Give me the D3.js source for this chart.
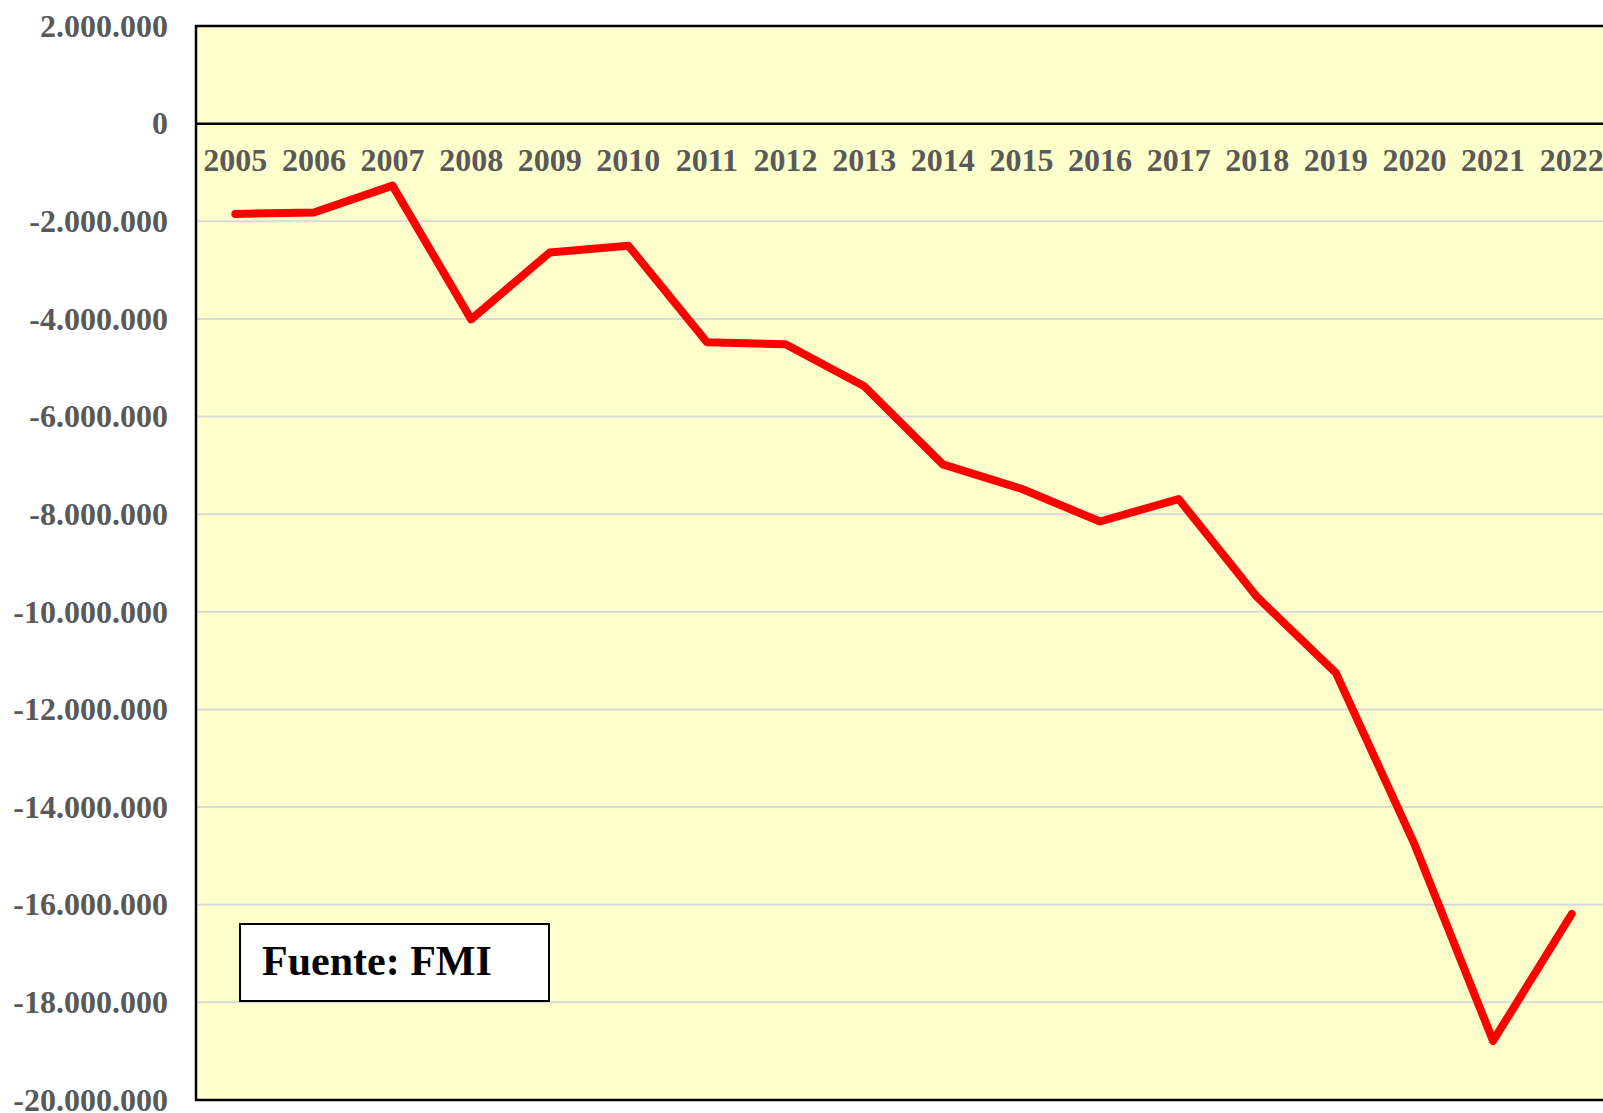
<!DOCTYPE html>
<html>
<head>
<meta charset="utf-8">
<script src="https://cdn.jsdelivr.net/npm/d3@7"></script>
<style>
  html, body { margin: 0; padding: 0; background: #fff; overflow: hidden; }
  svg { display: block; }
</style>
</head>
<body>
<svg id="chart"></svg>
<script>
// años y valores
const years = ["2005", "2006", "2007", "2008", "2009", "2010", "2011", "2012", "2013",
  "2014", "2015", "2016", "2017", "2018", "2019", "2020", "2021", "2022"];
const values = [-1850000, -1820000, -1270000, -4010000, -2640000, -2500000, -4480000,
  -4520000, -5380000, -6980000, -7480000, -8150000, -7690000, -9700000, -11250000,
  -14760000, -18790000, -16190000];
const yTicks = [2000000, 0, -2000000, -4000000, -6000000, -8000000, -10000000,
  -12000000, -14000000, -16000000, -18000000, -20000000];
const sourceLabel = "Fuente: FMI";

const width = 1603, height = 1113;
const margin = { top: 26, right: -8, bottom: 13, left: 196 };

const svg = d3.select("#chart").attr("width", width).attr("height", height);

const locale = d3.formatLocale({ decimal: ",", thousands: ".", grouping: [3], currency: ["", ""], minus: "-" });
const fmt = locale.format(",");

const x = d3.scaleBand()
  .domain(years)
  .range([margin.left, width - margin.right]);

const y = d3.scaleLinear()
  .domain([-20000000, 2000000])
  .range([height - margin.bottom, margin.top]);

// fondo del área de trazado
svg.append("rect")
  .attr("x", margin.left).attr("y", margin.top)
  .attr("width", width - margin.right - margin.left)
  .attr("height", height - margin.bottom - margin.top)
  .attr("fill", "#ffffcc");

// líneas de cuadrícula
svg.append("g")
  .selectAll("line")
  .data(yTicks.filter(d => d !== 0 && d !== 2000000 && d !== -20000000))
  .join("line")
  .attr("x1", margin.left).attr("x2", width - margin.right)
  .attr("y1", d => y(d)).attr("y2", d => y(d))
  .attr("stroke", "#d9d9d9")
  .attr("stroke-width", 2);

// eje Y
svg.append("g")
  .attr("transform", `translate(${margin.left - 28},0)`)
  .call(d3.axisLeft(y).tickValues(yTicks).tickFormat(fmt).tickSize(0).tickPadding(0))
  .call(g => g.select(".domain").remove())
  .selectAll("text")
  .attr("font-family", "'Liberation Serif', 'Times New Roman', serif")
  .attr("font-weight", "bold")
  .attr("font-size", 32)
  .attr("fill", "#595959");

// línea del cero
svg.append("line")
  .attr("x1", margin.left).attr("x2", width - margin.right)
  .attr("y1", y(0)).attr("y2", y(0))
  .attr("stroke", "#000")
  .attr("stroke-width", 2.5);

// etiquetas de años
svg.append("g")
  .selectAll("text")
  .data(years)
  .join("text")
  .attr("x", d => x(d) + x.bandwidth() / 2)
  .attr("y", y(0) + 47)
  .attr("text-anchor", "middle")
  .attr("font-family", "'Liberation Serif', 'Times New Roman', serif")
  .attr("font-weight", "bold")
  .attr("font-size", 32)
  .attr("fill", "#595959")
  .text(d => d);

// serie
const line = d3.line()
  .x((d, i) => x(years[i]) + x.bandwidth() / 2)
  .y(d => y(d));

svg.append("path")
  .datum(values)
  .attr("d", line)
  .attr("fill", "none")
  .attr("stroke", "#ff0000")
  .attr("stroke-width", 8)
  .attr("stroke-linejoin", "round")
  .attr("stroke-linecap", "round");

// borde del área de trazado
svg.append("rect")
  .attr("x", margin.left).attr("y", margin.top)
  .attr("width", width - margin.right - margin.left)
  .attr("height", height - margin.bottom - margin.top)
  .attr("fill", "none")
  .attr("stroke", "#000")
  .attr("stroke-width", 2.5);

// cuadro de la fuente
const box = svg.append("g").attr("transform", "translate(240,924)");
box.append("rect")
  .attr("width", 309).attr("height", 77)
  .attr("fill", "#fff")
  .attr("stroke", "#000")
  .attr("stroke-width", 2);
box.append("text")
  .attr("x", 22).attr("y", 51)
  .attr("font-family", "'Liberation Serif', 'Times New Roman', serif")
  .attr("font-weight", "bold")
  .attr("font-size", 42)
  .attr("fill", "#000")
  .text(sourceLabel);
</script>
</body>
</html>
